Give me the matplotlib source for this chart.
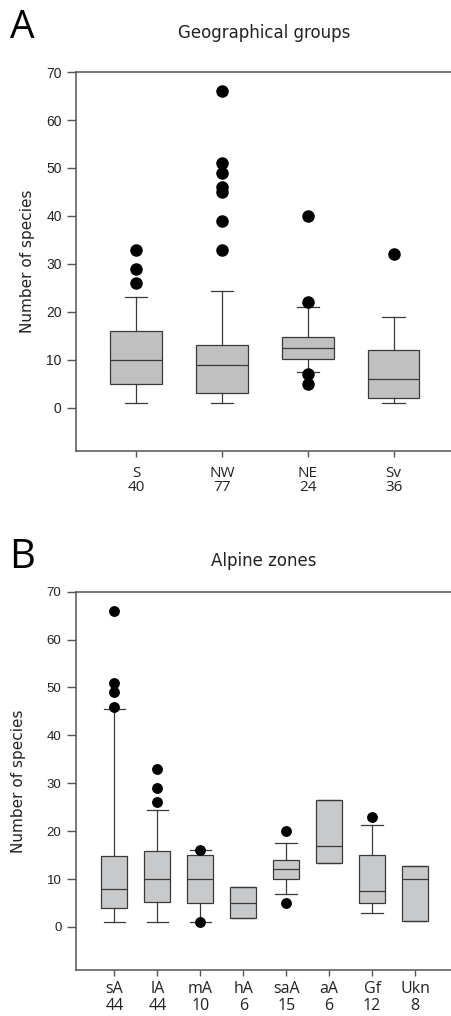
import matplotlib
matplotlib.use("Agg")
import matplotlib.pyplot as plt

# Panel A: geographical groups (box stats)
geo_groups = ['S', 'NW', 'NE', 'Sv']
geo_n = [40, 77, 24, 36]
geo_whislo = [1, 1, 7.4, 1]
geo_q1 = [5, 3, 10.2, 2]
geo_med = [10, 9, 12.5, 6]
geo_q3 = [16, 13, 14.7, 12]
geo_whishi = [23, 24.3, 21, 19]
geo_fliers = [[33, 29, 26], [66, 51, 49, 46, 45, 39, 33], [40, 22, 7, 5], [32]]

# Panel B: alpine zones
zone_names = ['sA', 'lA', 'mA', 'hA', 'saA', 'aA', 'Gf', 'Ukn']
zone_n = [44, 44, 10, 6, 15, 6, 12, 8]
zone_whislo = [1, 1, 1, 1.8, 6.8, 13.25, 3, 1.3]
zone_q1 = [4, 5.3, 5, 1.8, 10, 13.25, 5, 1.3]
zone_med = [8, 10, 10, 5, 12.1, 17, 7.5, 10]
zone_q3 = [14.8, 15.75, 15, 8.25, 14, 26.5, 15, 12.8]
zone_whishi = [45.5, 24.5, 16, 8.25, 17.6, 26.5, 21.2, 12.8]
zone_fliers = [[66, 51, 49, 46], [33, 29, 26], [16, 1], [], [20, 5], [], [23], []]

EDGE = '#3a3a3a'
SPINE = '#555555'


def make_stats(names, lo, q1, med, q3, hi, fl):
    stats = []
    for i in range(len(names)):
        stats.append(dict(whislo=lo[i], q1=q1[i], med=med[i], q3=q3[i],
                          whishi=hi[i], fliers=fl[i], label=names[i]))
    return stats


def draw_panel(ax, stats, names, counts, fill, box_w, cap_w, msize,
               tick_fs, lab_fs, lab_ls, lab_pad, xlim):
    ax.bxp(stats, positions=range(1, len(stats) + 1), widths=box_w,
           capwidths=cap_w, patch_artist=True, showfliers=True,
           boxprops=dict(facecolor=fill, edgecolor=EDGE, linewidth=0.9),
           medianprops=dict(color=EDGE, linewidth=0.9),
           whiskerprops=dict(color=EDGE, linewidth=0.9),
           capprops=dict(color=EDGE, linewidth=0.9),
           flierprops=dict(marker='o', markerfacecolor='black',
                           markeredgecolor='black', markersize=msize))
    ax.set_xlim(*xlim)
    ax.set_ylim(-9, 70)
    ax.set_yticks(range(0, 71, 10))
    ax.set_xticks(range(1, len(names) + 1))
    ax.set_xticklabels([f'{a}\n{b}' for a, b in zip(names, counts)],
                       family='Open Sans', fontsize=lab_fs, color='#222222',
                       linespacing=lab_ls)
    for lab in ax.get_yticklabels():
        lab.set_family('Liberation Sans')
        lab.set_fontsize(tick_fs)
        lab.set_color('#222222')
    ax.tick_params(axis='y', direction='out', length=6.3, width=1.0,
                   color=SPINE, pad=4)
    ax.tick_params(axis='x', direction='out', length=4.3, width=1.0,
                   color=SPINE, pad=lab_pad)
    ax.spines['right'].set_visible(False)
    for s in ['left', 'top', 'bottom']:
        ax.spines[s].set_color(SPINE)
        ax.spines[s].set_linewidth(1.1)


fig = plt.figure(figsize=(4.52, 10.16), dpi=100)

axA = fig.add_axes([0.1681, 0.5561, 0.8319, 0.3730])
draw_panel(axA, make_stats(geo_groups, geo_whislo, geo_q1, geo_med, geo_q3,
                           geo_whishi, geo_fliers),
           geo_groups, geo_n, '#c0c0c0', 0.6, 0.26, 8.0,
           10, 11, 0.95, 6.5, (0.3, 4.68))
axA.set_ylabel('Number of species', family='DejaVu Sans', fontsize=11,
               color='#222222', va='center')
axA.yaxis.set_label_coords(-0.130, 0.5)

axB = fig.add_axes([0.1675, 0.04528, 0.8325, 0.3723])
draw_panel(axB, make_stats(zone_names, zone_whislo, zone_q1, zone_med, zone_q3,
                           zone_whishi, zone_fliers),
           zone_names, zone_n, '#c8c9cb', 0.61, 0.5, 6.8,
           9.5, 11.5, 1.12, 3.5, (0.1, 8.86))
axB.set_ylabel('Number of species', family='DejaVu Sans', fontsize=11,
               color='#222222', va='center')
axB.yaxis.set_label_coords(-0.152, 0.5)

# titles and panel letters
fig.text(264 / 452, 1 - 37.5 / 1016, 'Geographical groups', family='DejaVu Sans',
         fontsize=12, ha='center', va='baseline', color='#222222')
fig.text(264 / 452, 1 - 566 / 1016, 'Alpine zones', family='DejaVu Sans',
         fontsize=12, ha='center', va='baseline', color='#222222')
fig.text(10 / 452, 1 - 38 / 1016, 'A', family='Open Sans', fontsize=28,
         ha='left', va='baseline', color='black')
fig.text(9 / 452, 1 - 567.5 / 1016, 'B', family='Open Sans', fontsize=29,
         ha='left', va='baseline', color='black')

fig.savefig('out.png', dpi=100)
